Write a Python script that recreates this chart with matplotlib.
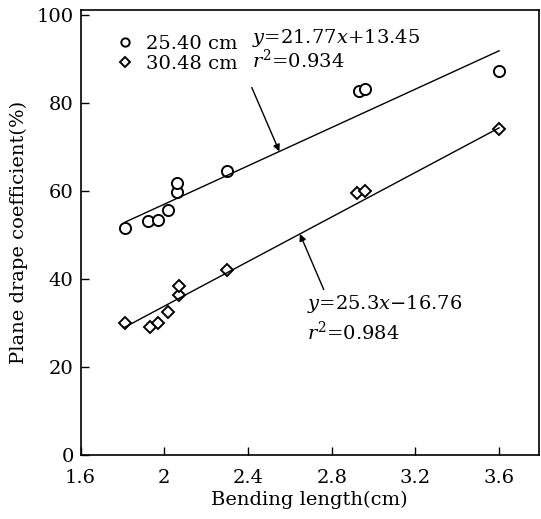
import matplotlib.pyplot as plt
import numpy as np

plt.rcParams['font.family'] = 'DejaVu Serif'
plt.rcParams['mathtext.fontset'] = 'dejavuserif'

# bending length (cm) vs plane drape coefficient (%)
x_25 = [1.81, 1.92, 1.97, 2.02, 2.06, 2.06, 2.30, 2.93, 2.96, 3.60]
y_25 = [51.5, 53.1, 53.5, 55.6, 59.7, 61.8, 64.5, 82.6, 83.2, 87.3]
x_30 = [1.81, 1.93, 1.97, 2.02, 2.07, 2.07, 2.30, 2.92, 2.96, 3.60]
y_30 = [29.9, 29.1, 29.9, 32.4, 36.3, 38.3, 42.1, 59.5, 59.9, 74.1]

# fitted lines y = a*x + b
fit_25 = [21.77, 13.45]
fit_30 = [25.3, -16.76]
r2_25 = 0.934
r2_30 = 0.984

x_ticks = [1.6, 2.0, 2.4, 2.8, 3.2, 3.6]
x_tick_labels = ['1.6', '2', '2.4', '2.8', '3.2', '3.6']
y_ticks = [0, 20, 40, 60, 80, 100]

fig = plt.figure(figsize=(5.41, 5.19), dpi=100)
ax = fig.add_axes([0.149, 0.123, 0.847, 0.857])

ax.plot(x_25, y_25, 'o', mfc='white', mec='black', mew=1.4, ms=8, ls='none',
        label='25.40 cm')
ax.plot(x_30, y_30, 'D', mfc='white', mec='black', mew=1.4, ms=6.5, ls='none',
        label='30.48 cm')

def fit_line(xs, coef):
    xx = np.array([min(xs), max(xs)])
    return xx, coef[0] * xx + coef[1]

xx, yy = fit_line(x_25, fit_25)
ax.plot(xx, yy, color='black', lw=1.0)
xx, yy = fit_line(x_30, fit_30)
ax.plot(xx, yy, color='black', lw=1.0)

# equation labels with arrows pointing at their lines
ax.text(2.42, 94.8, '$y$=%.2f$x$+%.2f' % (fit_25[0], fit_25[1]), fontsize=14,
        va='center')
ax.text(2.42, 89.8, '$r^2$=%.3f' % r2_25, fontsize=14, va='center')
tip = 2.55
ax.annotate('', xy=(tip, fit_25[0] * tip + fit_25[1]), xytext=(2.418, 83.5),
            arrowprops=dict(arrowstyle='-|>', color='black', lw=1.0,
                            mutation_scale=10, shrinkA=0, shrinkB=0))

ax.text(2.68, 34.4, '$y$=%.1f$x$\u2212%.2f' % (fit_30[0], -fit_30[1]),
        fontsize=14, va='center')
ax.text(2.68, 28.0, '$r^2$=%.3f' % r2_30, fontsize=14, va='center')
tip = 2.648
ax.annotate('', xy=(tip, fit_30[0] * tip + fit_30[1]), xytext=(2.762, 37.6),
            arrowprops=dict(arrowstyle='-|>', color='black', lw=1.0,
                            mutation_scale=10, shrinkA=0, shrinkB=0))

ax.legend(loc='upper left', frameon=False, fontsize=14, markerscale=0.75,
          handlelength=1.0, handletextpad=0.6, labelspacing=0.1,
          borderaxespad=0.3, bbox_to_anchor=(0.045, 0.975))

ax.set_xlim(1.6, 3.79)
ax.set_ylim(0, 101)
ax.set_xticks(x_ticks)
ax.set_xticklabels(x_tick_labels)
ax.set_yticks(y_ticks)
ax.tick_params(direction='in', length=6, width=1.0, labelsize=14)
ax.tick_params(axis='x', pad=10)
ax.tick_params(axis='y', pad=5)
for s in ax.spines.values():
    s.set_linewidth(1.2)

ax.set_xlabel('Bending length(cm)', fontsize=14, labelpad=3)
ax.set_ylabel('Plane drape coefficient(%)', fontsize=14, labelpad=6)

fig.savefig('out.png', dpi=100)
